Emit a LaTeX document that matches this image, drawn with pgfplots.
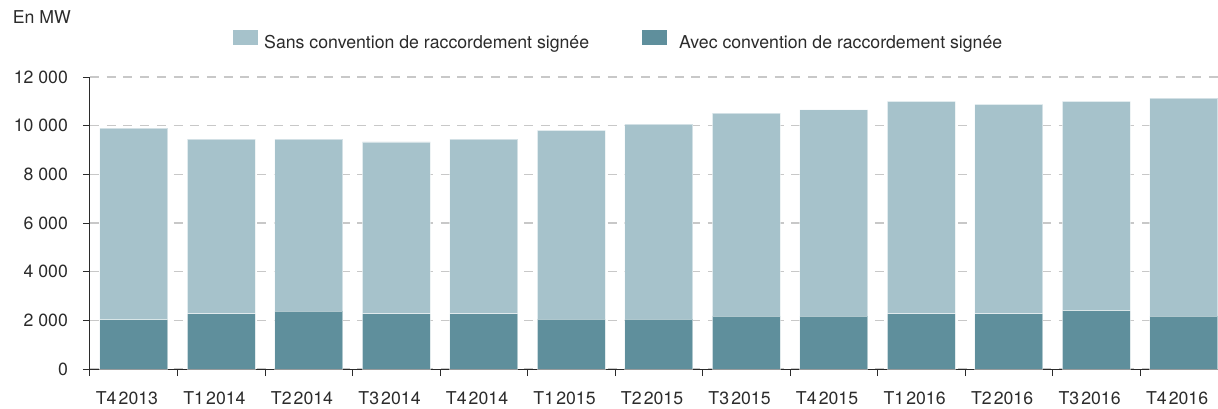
\documentclass[border=0pt]{standalone}
\usepackage{pgfplots}
\usepackage{pgfplotstable}
\pgfplotsset{compat=1.18}
\usepackage{fontspec}
\setmainfont{TeX Gyre Heros}
\usetikzlibrary{calc}
\definecolor{light}{HTML}{A6C2CB}
\definecolor{dark}{HTML}{5F8F9C}
\definecolor{txt}{HTML}{2B2B2B}
\definecolor{gridc}{HTML}{C8C8C8}
\pgfplotstableread{
x avec sans
0 2030 7870
1 2270 7180
2 2380 7070
3 2270 7060
4 2270 7180
5 2050 7760
6 2050 8010
7 2170 8350
8 2170 8480
9 2270 8730
10 2270 8610
11 2400 8600
12 2170 8960
}\datatable
\begin{document}%
\fontsize{17.7}{21}\selectfont%
\begin{tikzpicture}
\begin{axis}[
  scale only axis, width=1128pt, height=292pt,
  xmin=-0.5, xmax=12.39, ymin=0, ymax=12000,
  ybar stacked, bar width=68pt,
  axis x line*=bottom, axis y line*=left,
  axis line style={-, color=txt, line width=1pt},
  tick style={color=txt, line width=1pt},
  tick align=outside, major tick length=7pt,
  ytick={0,2000,...,12000},
  scaled y ticks=false,
  ymajorgrids,
  grid style={color=gridc, line width=1.2pt, dash pattern=on 9pt off 7.7pt},
  xtick={-0.5,0.5,...,11.5},
  xticklabels={T4\kern0.12em2013,T1\kern0.12em2014,T2\kern0.12em2014,T3\kern0.12em2014,T4\kern0.12em2014,T1\kern0.12em2015,T2\kern0.12em2015,T3\kern0.12em2015,T4\kern0.12em2015,T1\kern0.12em2016,T2\kern0.12em2016,T3\kern0.12em2016,T4\kern0.12em2016},
  xticklabel style={xshift=37pt, yshift=-15pt, text=txt, text depth=0pt, inner sep=0pt},
  yticklabel style={text=txt, xshift=-9pt},
  /pgf/number format/.cd, 1000 sep={\ }, assume math mode=true,
  /pgfplots/.cd,
  legend image code/.code={\fill[#1] (0pt,-1.5pt) rectangle (25pt,13.5pt);},
  legend style={at={(axis description cs:0.1268,1.124)}, anchor=west,
    draw=none, fill=none, inner sep=0pt, legend columns=2,
    /tikz/column 1/.append style={column sep=6pt},
    /tikz/column 2/.append style={column sep=53pt},
    /tikz/column 3/.append style={column sep=12pt},
    nodes={inner sep=0pt, text=txt}},
  legend cell align=left,
]
\addplot[forget plot, fill=dark, draw=white, draw opacity=0.5, line width=0.8pt] table[x=x, y=avec] {\datatable};
\addplot[forget plot, fill=light, draw=white, draw opacity=0.5, line width=0.8pt] table[x=x, y=sans] {\datatable};
\addlegendimage{fill=light, draw=none}
\addlegendentry{Sans convention de raccordement signée}
\addlegendimage{fill=dark, draw=none}
\addlegendentry{Avec convention de raccordement signée}
\coordinate (O) at (axis cs:-0.5,0);
\end{axis}
\pgfresetboundingbox
\path[use as bounding box] ($(O)+(-90pt,-39pt)$) rectangle ($(O)+(1128pt,369pt)$);
\node[anchor=base west, inner sep=0pt, text=txt] at ($(O)+(-77.3pt,345pt)$) {En MW};
\end{tikzpicture}%
\end{document}
